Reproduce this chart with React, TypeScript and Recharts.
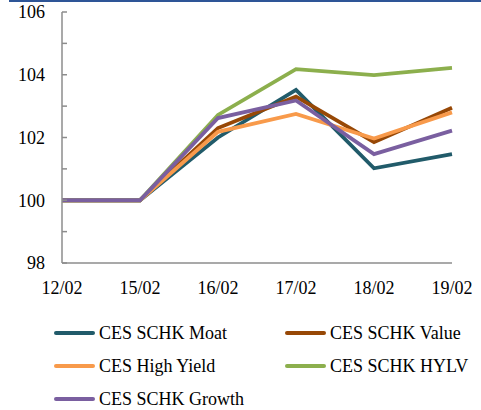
import React from "react";
import { LineChart, Line, XAxis, YAxis } from "recharts";

const dates = ["12/02", "15/02", "16/02", "17/02", "18/02", "19/02"];
const moat = [100, 100, 102.0, 103.52, 101.02, 101.47];
const value = [100, 100, 102.3, 103.3, 101.85, 102.95];
const highYield = [100, 100, 102.18, 102.75, 101.97, 102.8];
const hylv = [100, 100, 102.72, 104.18, 103.99, 104.22];
const growth = [100, 100, 102.62, 103.18, 101.47, 102.22];
const yTicks = [98, 99, 100, 101, 102, 103, 104, 105, 106];

const series = [
  { key: "moat", name: "CES SCHK Moat", color: "#215B6A", values: moat },
  { key: "value", name: "CES SCHK Value", color: "#974806", values: value },
  { key: "highYield", name: "CES High Yield", color: "#F89A4B", values: highYield },
  { key: "hylv", name: "CES SCHK HYLV", color: "#8CAF4D", values: hylv },
  { key: "growth", name: "CES SCHK Growth", color: "#7A5FA0", values: growth },
];

const data = dates.map((d, i) => {
  const row: Record<string, number | string> = { date: d };
  series.forEach((s) => {
    row[s.key] = s.values[i];
  });
  return row;
});

const font = "Liberation Serif";

export default function App() {
  return (
    <div style={{ position: "absolute", left: 0, top: 0, width: 481, height: 410, background: "#fff", fontFamily: font }}>
      <div style={{ position: "absolute", left: 9, top: 0, width: 472, height: 2, background: "#2E5597" }} />
      <LineChart
        width={481}
        height={410}
        data={data}
        margin={{ top: 12, right: 29, left: 0, bottom: 117 }}
      >
        <XAxis
          dataKey="date"
          height={30}
          tickLine={false}
          tickSize={0}
          tickMargin={18}
          axisLine={{ stroke: "#8C8C8C", strokeWidth: 1.5 }}
          tick={{ fill: "#000", fontSize: 18, fontFamily: font }}
          interval={0}
        />
        <YAxis
          width={62}
          domain={[98, 106]}
          ticks={yTicks}
          interval={0}
          tickSize={-5}
          tickMargin={22}
          axisLine={{ stroke: "#8C8C8C", strokeWidth: 1.5 }}
          tickLine={{ stroke: "#8C8C8C", strokeWidth: 1.5 }}
          tick={{ fill: "#000", fontSize: 18, fontFamily: font }}
          tickFormatter={(v: number) => (v % 2 === 0 ? String(v) : "")}
        />
        {series.map((s) => (
          <Line
            key={s.key}
            type="linear"
            dataKey={s.key}
            name={s.name}
            stroke={s.color}
            strokeWidth={3.8}
            dot={false}
            activeDot={false}
            isAnimationActive={false}
          />
        ))}
      </LineChart>
      {series.map((s, i) => {
        const col = i % 2;
        const row = Math.floor(i / 2);
        const left = col === 0 ? 54 : 285;
        const cy = 333 + row * 33;
        return (
          <div key={s.key} style={{ position: "absolute", left, top: cy - 12, height: 24, display: "flex", alignItems: "center", fontFamily: font }}>
            <div style={{ width: 41, height: 4, borderRadius: 2, background: s.color }} />
            <span style={{ marginLeft: 4, fontSize: 18, color: "#000", whiteSpace: "nowrap", lineHeight: "24px", fontFamily: font }}>{s.name}</span>
          </div>
        );
      })}
    </div>
  );
}
